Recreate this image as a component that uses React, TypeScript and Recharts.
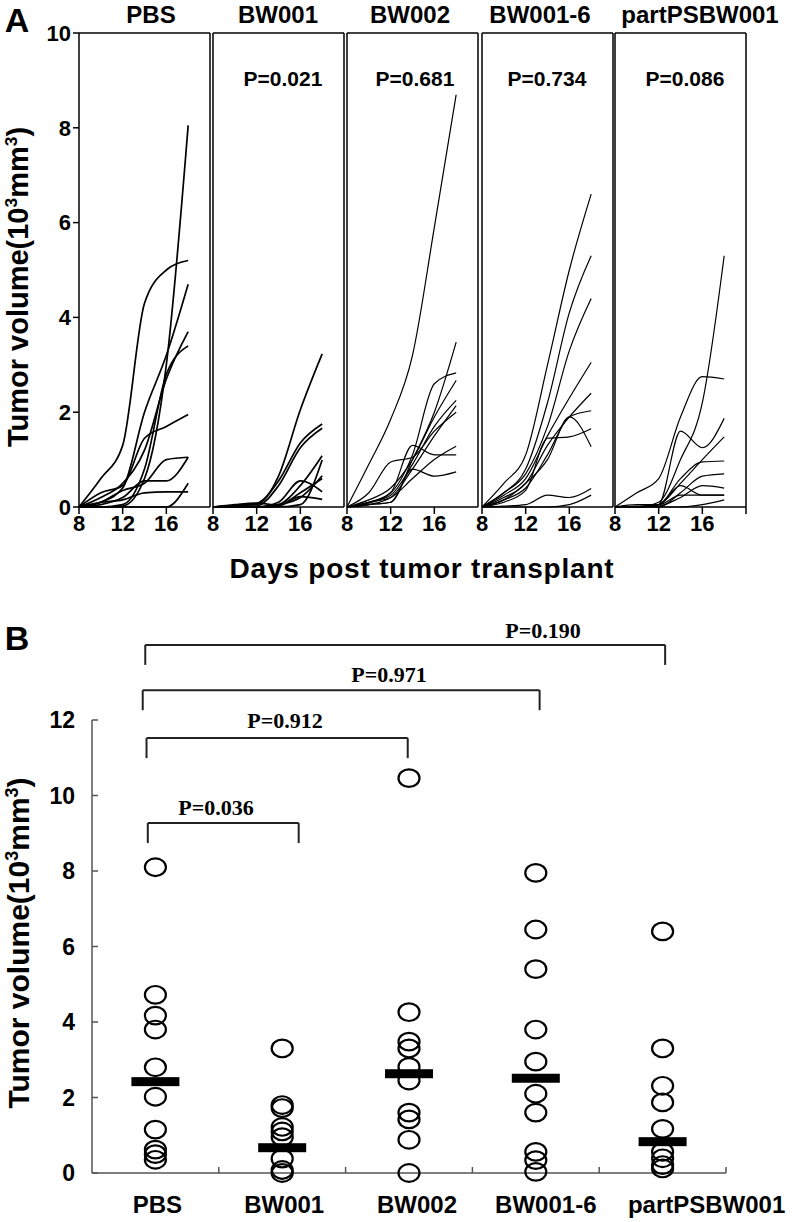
import React from "react";
import {LineChart, Line, XAxis, YAxis, ReferenceLine, ScatterChart, Scatter} from "recharts";

const groups = ["PBS", "BW001", "BW002", "BW001-6", "partPSBW001"];
const days = [8, 10, 12, 14, 16, 18];
const panelPValues = ["", "P=0.021", "P=0.681", "P=0.734", "P=0.086"];

// panel A: tumor volume per mouse on days 8..18
const pbsCurves = [
    [0, 0.6, 1.3, 4.3, 5.0, 5.2],
    [0, 0, 0.02, 0.6, 3.0, 8.05],
    [0, 0.1, 0.4, 2.0, 3.2, 4.7],
    [0, 0.2, 0.5, 1.2, 2.7, 3.7],
    [0, 0, 0.05, 0.8, 2.8, 3.4],
    [0, 0.3, 0.45, 1.45, 1.7, 1.95],
    [0, 0.1, 0.35, 0.5, 1.0, 1.05],
    [0, 0.05, 0.2, 0.55, 0.55, 1.05],
    [0, 0.1, 0.15, 0.3, 0.32, 0.32],
    [0, 0, 0, 0, 0, 0.5],
];
const bw001Curves = [
    [0, 0.02, 0.05, 0.65, 2.05, 3.23],
    [0, 0.03, 0.08, 0.55, 1.35, 1.75],
    [0, 0, 0.02, 0.45, 1.25, 1.66],
    [0, 0, 0, 0.05, 0.45, 1.08],
    [0, 0, 0, 0, 0.05, 0.99],
    [0, 0, 0, 0.1, 0.55, 0.32],
    [0, 0, 0, 0.05, 0.2, 0.66],
    [0, 0, 0, 0.02, 0.22, 0.16],
    [0, 0.05, 0.08, 0.04, 0.3, 0.6],
];
const bw002Curves = [
    [0, 0.9, 1.85, 3.2, 5.9, 8.7],
    [0, 0.05, 0.1, 1.0, 2.0, 3.48],
    [0, 0.1, 0.3, 1.1, 2.6, 2.83],
    [0, 0.15, 0.4, 1.0, 1.9, 2.67],
    [0, 0.1, 0.25, 0.9, 1.7, 2.25],
    [0, 0.05, 0.2, 0.8, 1.5, 2.14],
    [0, 0.3, 0.95, 1.05, 1.6, 2.0],
    [0, 0.1, 0.2, 0.6, 1.0, 1.28],
    [0, 0.08, 0.3, 1.3, 1.1, 1.1],
    [0, 0.05, 0.1, 0.8, 0.65, 0.74],
];
const bw0016Curves = [
    [0, 0.5, 1.1, 3.0, 5.0, 6.6],
    [0, 0.3, 0.8, 2.2, 4.1, 5.3],
    [0, 0.3, 0.7, 1.7, 3.3, 4.4],
    [0, 0.25, 0.6, 1.5, 2.3, 3.05],
    [0, 0.2, 0.5, 1.3, 1.9, 2.4],
    [0, 0.15, 0.4, 1.1, 1.9, 2.03],
    [0, 0.15, 0.5, 1.0, 1.9, 1.27],
    [0, 0.1, 0.35, 1.45, 1.48, 1.65],
    [0, 0.02, 0.05, 0.25, 0.2, 0.39],
    [0, 0, 0, 0, 0.05, 0.25],
];
const partCurves = [
    [0, 0, 0.1, 1.0, 2.2, 5.3],
    [0, 0.3, 0.6, 1.9, 2.75, 2.7],
    [0, 0, 0.05, 1.6, 1.25, 1.87],
    [0, 0, 0.05, 0.5, 1.0, 1.48],
    [0, 0, 0.05, 0.6, 0.95, 0.97],
    [0, 0, 0, 0.3, 0.65, 0.7],
    [0, 0, 0.02, 0.2, 0.45, 0.4],
    [0, 0.02, 0.05, 0.45, 0.25, 0.25],
    [0, 0.05, 0.05, 0.25, 0.25, 0.25],
    [0, 0, 0, 0, 0.05, 0.15],
];
const allCurves = [pbsCurves, bw001Curves, bw002Curves, bw0016Curves, partCurves];

// panel B: final volumes and medians
const pbsFinal = [8.1, 4.72, 4.17, 3.8, 2.8, 2.02, 1.15, 0.62, 0.5, 0.35];
const bw001Final = [3.3, 1.8, 1.72, 1.22, 1.1, 0.95, 0.38, 0.08, 0];
const bw002Final = [10.46, 4.26, 3.48, 3.3, 2.81, 2.45, 1.6, 1.42, 0.88, 0];
const bw0016Final = [7.95, 6.45, 5.4, 3.8, 2.95, 2.1, 1.6, 0.56, 0.34, 0.03];
const partFinal = [6.4, 3.3, 2.31, 1.87, 1.17, 0.56, 0.39, 0.21, 0.12];
const allFinal = [pbsFinal, bw001Final, bw002Final, bw0016Final, partFinal];
const medians = [2.42, 0.67, 2.63, 2.51, 0.83];

const brackets = [
    {x1: 0.44, x2: 1.63, y: 9.27},
    {x1: 0.43, x2: 2.49, y: 11.52},
    {x1: 0.4, x2: 3.53, y: 12.79},
    {x1: 0.42, x2: 4.52, y: 13.99},
];
const bracketLabels = ["P=0.036", "P=0.912", "P=0.971", "P=0.190"];

const SANS = "'Liberation Sans', Arial, sans-serif";
const SERIF = "'Liberation Serif', 'Times New Roman', serif";

const Txt = ({x, y, size, serif = false, rotate = false, spacing = 0, children}: any) => (
    <div style={{
        position: "absolute", left: x, top: y, whiteSpace: "nowrap", lineHeight: 1,
        transform: `translate(-50%,-50%)${rotate ? " rotate(-90deg)" : ""}`,
        fontFamily: serif ? SERIF : SANS, fontWeight: "bold", fontSize: size, letterSpacing: spacing, color: "#000",
    }}>{children}</div>
);

const plotLefts = [79, 213, 347, 482, 615];
const titleX = [151, 278, 410, 540, 700];
const pX = [0, 283, 415, 547, 685];
const lineWidths = [1.7, 1.7, 1.2, 1.2, 1.2];
const catLabelShift = [2, 2, 8, 10, 44];

const GrowthPanel = ({index}: { index: number }) => {
    const curves = allCurves[index];
    const last = index === groups.length - 1;
    return (
        <div style={{position: "absolute", left: plotLefts[index] - 60, top: 16}}>
            <LineChart width={193} height={531} margin={{top: 17, right: 2, bottom: 0, left: 0}}>
                <XAxis type="number" dataKey="d" domain={[8, 20]} ticks={last ? [8, 12, 16, 20] : [8, 12, 16]}
                       interval={0} height={40} tickSize={7} tickMargin={1}
                       tickFormatter={(v: number) => (v === 20 ? "" : String(v))}
                       axisLine={{stroke: "#000", strokeWidth: 1.5}} tickLine={{stroke: "#000", strokeWidth: 1.5}}
                       tick={{fill: "#000", fontSize: 22, fontWeight: "bold", fontFamily: SANS}}/>
                <YAxis type="number" domain={[0, 10]} ticks={[0, 2, 4, 6, 8, 10]} interval={0} width={60}
                       tickSize={6} tickMargin={2}
                       axisLine={{stroke: "#000", strokeWidth: 1.5}}
                       tickLine={index === 0 ? {stroke: "#000", strokeWidth: 1.5} : false}
                       tick={index === 0 ? {fill: "#000", fontSize: 22, fontWeight: "bold", fontFamily: SANS} : false}/>
                <ReferenceLine y={10} stroke="#000" strokeWidth={1.5}/>
                <ReferenceLine x={20} stroke="#000" strokeWidth={1.5}/>
                {curves.map((c, k) => (
                    <Line key={k} data={days.map((d, j) => ({d, v: c[j]}))} dataKey="v" type="monotone"
                          dot={false} stroke="#000" strokeWidth={lineWidths[index]} isAnimationActive={false}/>
                ))}
            </LineChart>
        </div>
    );
};

const CategoryTick = ({x, y, payload}: any) => {
    const v = payload.value;
    if (Number.isInteger(v)) {
        if (v === 0) return null;
        return <line x1={x} x2={x} y1={y} y2={y - 6} stroke="#555" strokeWidth={1.5}/>;
    }
    const i = Math.floor(v);
    return (
        <text x={x + catLabelShift[i]} y={y + 40} textAnchor="middle" fill="#000" fontSize={24} fontWeight="bold"
              fontFamily={SANS}>{groups[i]}</text>
    );
};

const ValueTick = ({x, y, payload}: any) => (
    <g>
        <line x1={x} x2={x + 6} y1={y} y2={y} stroke="#555" strokeWidth={1.5}/>
        <text x={x - 17} y={y} dy="0.36em" textAnchor="end" fill="#000" fontSize={23} fontWeight="bold"
              fontFamily={SANS}>{payload.value}</text>
    </g>
);

const Ring = ({cx, cy}: any) => (
    <ellipse cx={cx} cy={cy} rx={10.5} ry={8.8} fill="none" stroke="#000" strokeWidth={2.2}/>
);
const MedianBar = ({cx, cy}: any) => (
    <rect x={cx - 24} y={cy - 4.5} width={48} height={9} fill="#000"/>
);

const FinalPanel = () => (
    <div style={{position: "absolute", left: 22, top: 610}}>
        <ScatterChart width={770} height={608} margin={{top: 110, right: 66, bottom: 0, left: 0}}>
            <XAxis type="number" dataKey="x" domain={[0, 5]} ticks={[0, 0.5, 1, 1.5, 2, 2.5, 3, 3.5, 4, 4.5, 5]}
                   interval={0} height={45} tickSize={0} tickMargin={0} tickLine={false}
                   axisLine={{stroke: "#555", strokeWidth: 1.5}} tick={<CategoryTick/>}/>
            <YAxis type="number" dataKey="y" domain={[0, 12]} ticks={[0, 2, 4, 6, 8, 10, 12]} interval={0}
                   width={70} tickSize={0} tickMargin={0} tickLine={false}
                   axisLine={{stroke: "#555", strokeWidth: 1.5}} tick={<ValueTick/>}/>
            {brackets.map((b, k) => (
                <React.Fragment key={k}>
                    <ReferenceLine ifOverflow="visible" stroke="#222" strokeWidth={2}
                                   segment={[{x: b.x1, y: b.y}, {x: b.x2, y: b.y}]}/>
                    <ReferenceLine ifOverflow="visible" stroke="#222" strokeWidth={2}
                                   segment={[{x: b.x1, y: b.y}, {x: b.x1, y: b.y - 0.53}]}/>
                    <ReferenceLine ifOverflow="visible" stroke="#222" strokeWidth={2}
                                   segment={[{x: b.x2, y: b.y}, {x: b.x2, y: b.y - 0.53}]}/>
                </React.Fragment>
            ))}
            {allFinal.map((vals, i) => (
                <Scatter key={groups[i]} data={vals.map((y) => ({x: i + 0.5, y}))} shape={<Ring/>}
                         isAnimationActive={false}/>
            ))}
            <Scatter data={medians.map((y, i) => ({x: i + 0.5, y}))} shape={<MedianBar/>}
                     isAnimationActive={false}/>
        </ScatterChart>
    </div>
);

const App = () => (
    <div style={{position: "absolute", left: 0, top: 0, width: 792, height: 1222, background: "#fff", overflow: "hidden"}}>
        {groups.map((_, i) => <GrowthPanel key={i} index={i}/>)}
        <FinalPanel/>

        <Txt x={17} y={20} size={34}>A</Txt>
        <Txt x={17} y={638} size={34}>B</Txt>
        {groups.map((g, i) => <Txt key={g} x={titleX[i]} y={15} size={24}>{g}</Txt>)}
        {panelPValues.map((p, i) => p ? <Txt key={p} x={pX[i]} y={78} size={21}>{p}</Txt> : null)}
        <Txt x={18} y={287} size={29} rotate>Tumor volume(10<sup style={{fontSize: "0.6em"}}>3</sup>mm<sup
            style={{fontSize: "0.6em"}}>3</sup>)</Txt>
        <Txt x={422} y={569} size={28} spacing={0.8}>Days post tumor transplant</Txt>

        <Txt x={18} y={943} size={30} rotate>Tumor volume(10<sup style={{fontSize: "0.6em"}}>3</sup>mm<sup
            style={{fontSize: "0.6em"}}>3</sup>)</Txt>
        <Txt x={216} y={808} size={22} serif>{bracketLabels[0]}</Txt>
        <Txt x={285} y={721} size={22} serif>{bracketLabels[1]}</Txt>
        <Txt x={389} y={675} size={22} serif>{bracketLabels[2]}</Txt>
        <Txt x={543} y={631} size={22} serif>{bracketLabels[3]}</Txt>
    </div>
);

export default App;
